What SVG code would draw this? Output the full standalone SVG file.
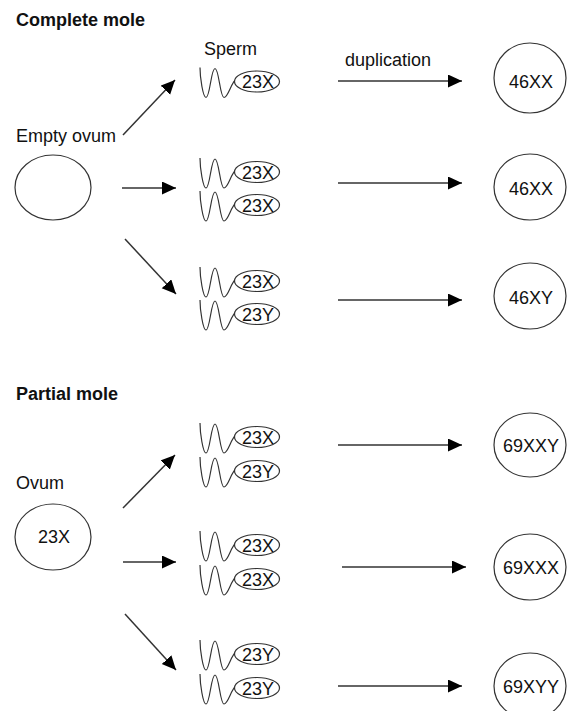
<svg xmlns="http://www.w3.org/2000/svg" xmlns:xlink="http://www.w3.org/1999/xlink" width="568" height="711" viewBox="0 0 568 711">
<style>
text{font-family:"Liberation Sans",Arial,sans-serif;font-size:18px;fill:#111}
.h{font-weight:bold}
.c{text-anchor:middle}
.el{fill:#fff;stroke:#333;stroke-width:1.2}
.tail{fill:none;stroke:#333;stroke-width:1.2}
.ar{stroke:#333;stroke-width:1.5;fill:none;marker-end:url(#ah)}
</style>
<defs>
<marker id="ah" markerUnits="userSpaceOnUse" markerWidth="15" markerHeight="14" refX="14" refY="6.5" orient="auto">
<path d="M0,0 L14,6.5 L0,13 z" fill="#000"/>
</marker>
<path id="tail" d="M-57,-14 C-57,-4 -54,16 -51,16 C-47,16 -46,-13 -42,-13 C-38,-13 -37,16 -33,16 C-29,16 -26,2 -22,-1"/>
</defs>
<rect width="568" height="711" fill="#fff"/>

<text class="h" x="16" y="26">Complete mole</text>
<text class="h" x="16" y="400">Partial mole</text>
<text x="204" y="55">Sperm</text>
<text x="345" y="66">duplication</text>

<g id="empty-ovum">
<text x="16" y="142">Empty ovum</text>
<ellipse class="el" cx="53" cy="187.5" rx="38" ry="32.5"/>
</g>
<g id="ovum">
<text x="16" y="489">Ovum</text>
<ellipse class="el" cx="53" cy="537" rx="38" ry="33"/>
<text class="c" x="54" y="543">23X</text>
</g>

<g id="sperm-c1"><use xlink:href="#tail" class="tail" transform="translate(257,81.5)"/><ellipse class="el" cx="257" cy="81.5" rx="22.5" ry="10.5"/><text class="c" x="258" y="88">23X</text></g>
<g id="sperm-c2a"><use xlink:href="#tail" class="tail" transform="translate(257,172)"/><ellipse class="el" cx="257" cy="172" rx="22.5" ry="10.5"/><text class="c" x="258" y="178.5">23X</text></g>
<g id="sperm-c2b"><use xlink:href="#tail" class="tail" transform="translate(257,205)"/><ellipse class="el" cx="257" cy="205" rx="22.5" ry="10.5"/><text class="c" x="258" y="211.5">23X</text></g>
<g id="sperm-c3a"><use xlink:href="#tail" class="tail" transform="translate(257,281)"/><ellipse class="el" cx="257" cy="281" rx="22.5" ry="10.5"/><text class="c" x="258" y="287.5">23X</text></g>
<g id="sperm-c3b"><use xlink:href="#tail" class="tail" transform="translate(257,314)"/><ellipse class="el" cx="257" cy="314" rx="22.5" ry="10.5"/><text class="c" x="258" y="320.5">23Y</text></g>

<g id="sperm-p1a"><use xlink:href="#tail" class="tail" transform="translate(257,437)"/><ellipse class="el" cx="257" cy="437" rx="22.5" ry="10.5"/><text class="c" x="258" y="443.5">23X</text></g>
<g id="sperm-p1b"><use xlink:href="#tail" class="tail" transform="translate(257,471)"/><ellipse class="el" cx="257" cy="471" rx="22.5" ry="10.5"/><text class="c" x="258" y="477.5">23Y</text></g>
<g id="sperm-p2a"><use xlink:href="#tail" class="tail" transform="translate(257,545)"/><ellipse class="el" cx="257" cy="545" rx="22.5" ry="10.5"/><text class="c" x="258" y="551.5">23X</text></g>
<g id="sperm-p2b"><use xlink:href="#tail" class="tail" transform="translate(257,579)"/><ellipse class="el" cx="257" cy="579" rx="22.5" ry="10.5"/><text class="c" x="258" y="585.5">23X</text></g>
<g id="sperm-p3a"><use xlink:href="#tail" class="tail" transform="translate(257,654)"/><ellipse class="el" cx="257" cy="654" rx="22.5" ry="10.5"/><text class="c" x="258" y="660.5">23Y</text></g>
<g id="sperm-p3b"><use xlink:href="#tail" class="tail" transform="translate(257,688)"/><ellipse class="el" cx="257" cy="688" rx="22.5" ry="10.5"/><text class="c" x="258" y="694.5">23Y</text></g>

<g id="result-c1"><ellipse class="el" cx="530" cy="78" rx="36" ry="35"/><text class="c" x="531" y="88">46XX</text></g>
<g id="result-c2"><ellipse class="el" cx="530" cy="187" rx="36" ry="33"/><text class="c" x="531" y="195">46XX</text></g>
<g id="result-c3"><ellipse class="el" cx="530" cy="296" rx="36" ry="33"/><text class="c" x="531" y="304">46XY</text></g>
<g id="result-p1"><ellipse class="el" cx="530" cy="445" rx="36" ry="32"/><text class="c" x="531" y="452">69XXY</text></g>
<g id="result-p2"><ellipse class="el" cx="530" cy="567" rx="36" ry="33"/><text class="c" x="531" y="574">69XXX</text></g>
<g id="result-p3"><ellipse class="el" cx="530" cy="686" rx="36" ry="33"/><text class="c" x="531" y="693">69XYY</text></g>

<g id="connectors">
<line class="ar" x1="123" y1="135" x2="175" y2="80"/>
<line class="ar" x1="122" y1="188" x2="176" y2="188"/>
<line class="ar" x1="125" y1="239" x2="176" y2="294"/>
<line class="ar" x1="338" y1="81" x2="462" y2="81"/>
<line class="ar" x1="338" y1="183" x2="462" y2="183"/>
<line class="ar" x1="338" y1="300" x2="462" y2="300"/>
<line class="ar" x1="123" y1="508" x2="175" y2="455"/>
<line class="ar" x1="123" y1="562" x2="176" y2="562"/>
<line class="ar" x1="125" y1="614" x2="176" y2="670"/>
<line class="ar" x1="338" y1="445" x2="462" y2="445"/>
<line class="ar" x1="342" y1="567" x2="466" y2="567"/>
<line class="ar" x1="338" y1="686" x2="462" y2="686"/>
</g>
</svg>
